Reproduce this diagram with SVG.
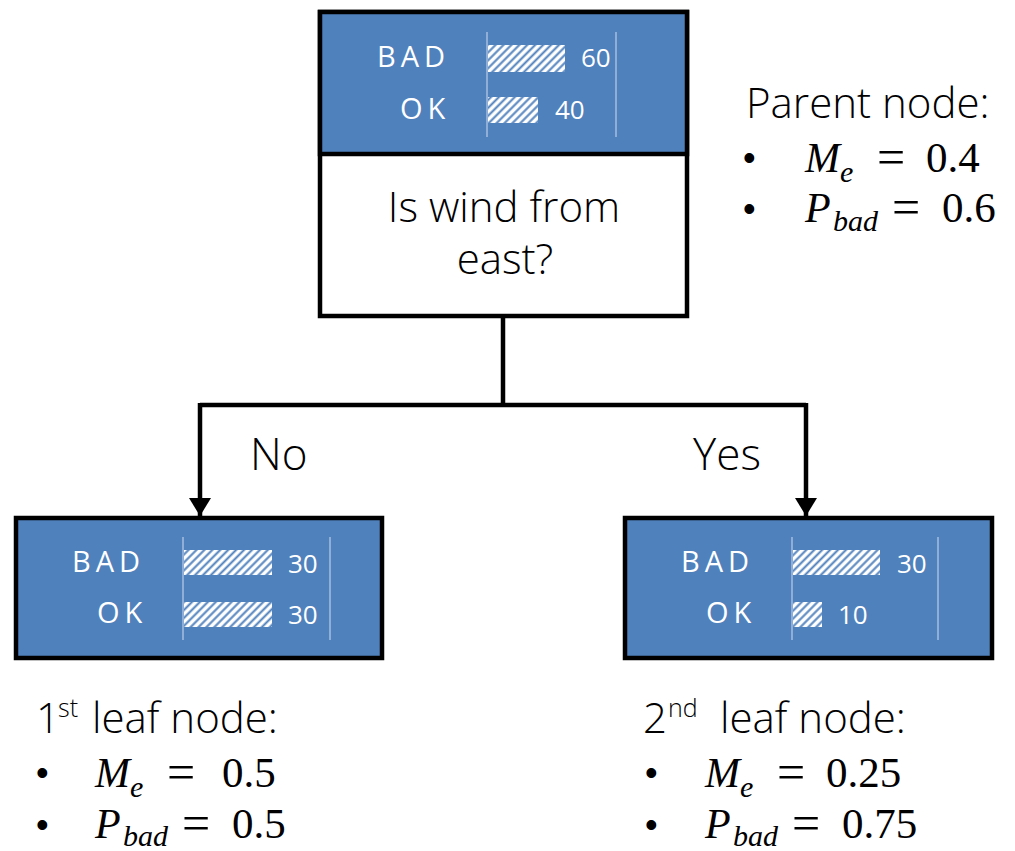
<svg xmlns="http://www.w3.org/2000/svg" width="1015" height="851" viewBox="0 0 1015 851">
<style>
.box{fill:#4F81BD;stroke:#000;stroke-width:4.5}
.wbox{fill:#fff;stroke:#000;stroke-width:4.5}
.lbl{font-family:"Open Sans","Liberation Sans",sans-serif;font-size:29px;fill:#fff;letter-spacing:5px}
.num{font-family:"Open Sans","Liberation Sans",sans-serif;font-size:26px;fill:#fff}
.axis{stroke:#B4C8E4;stroke-width:1.3}
.bar{fill:url(#hatch)}
.txt{font-family:"Open Sans","Liberation Sans",sans-serif;font-weight:300;font-size:42px;fill:#000}
.br{font-family:"Open Sans","Liberation Sans",sans-serif;font-size:44px;font-weight:300;fill:#000}
.sup{font-size:25px}
.mi{font-family:"Liberation Serif",serif;font-style:italic;font-size:42px;fill:#000}
.ms{font-family:"Liberation Serif",serif;font-style:italic;font-size:30px;fill:#000}
.mn{font-family:"Liberation Serif",serif;font-size:43px;fill:#000}
.eq{font-family:"Liberation Serif",serif;font-size:50px;fill:#000}
.bul{font-family:"Liberation Sans",sans-serif;font-size:36px;fill:#000}
.conn{fill:none;stroke:#000;stroke-width:4.5}
</style>
<defs>
<pattern id="hatch" patternUnits="userSpaceOnUse" width="5.6" height="5.6" patternTransform="rotate(45)">
<rect width="5.6" height="5.6" fill="#fff"/>
<line x1="1.4" y1="0" x2="1.4" y2="5.6" stroke="#4F81BD" stroke-width="2"/>
</pattern>
<marker id="arr" markerUnits="userSpaceOnUse" markerWidth="20" markerHeight="24" refX="18" refY="11" orient="auto">
<path d="M0,0 L18,11 L0,22 Z" fill="#000"/>
</marker>
</defs>

<g id="connectors">
<path class="conn" d="M503,317 V405"/>
<path class="conn" d="M200,405 H806"/>
<path class="conn" d="M200,403 V516" marker-end="url(#arr)"/>
<path class="conn" d="M806,403 V516" marker-end="url(#arr)"/>
<text class="br" x="250" y="470">No</text>
<text class="br" x="693" y="470">Yes</text>
</g>

<g id="parent-node">
<rect class="wbox" x="320" y="12" width="367" height="304"/>
<rect class="box" x="320" y="12" width="367" height="142"/>
<line class="axis" x1="487" y1="32" x2="487" y2="137"/>
<line class="axis" x1="616" y1="32" x2="616" y2="137"/>
<rect class="bar" x="488" y="45" width="77" height="27"/>
<rect class="bar" x="488" y="97" width="50" height="26"/>
<text class="lbl" x="377" y="67">BAD</text>
<text class="lbl" x="400" y="119">OK</text>
<text class="num" x="581" y="67">60</text>
<text class="num" x="555" y="119">40</text>
<text class="txt" x="504" y="222" text-anchor="middle" font-size="40">Is wind from</text>
<text class="txt" x="505" y="274" text-anchor="middle" font-size="40">east?</text>
</g>

<g id="parent-info">
<text class="txt" x="746" y="118">Parent node:</text>
<text class="bul" x="743" y="170">•</text>
<text class="mi" x="805" y="172">M</text>
<text class="ms" x="840" y="182">e</text>
<text class="eq" x="877" y="174">=</text>
<text class="mn" x="926" y="172">0.4</text>
<text class="bul" x="743" y="221">•</text>
<text class="mi" x="805" y="222">P</text>
<text class="ms" x="833" y="231">bad</text>
<text class="eq" x="892" y="224">=</text>
<text class="mn" x="942" y="222">0.6</text>
</g>

<g id="leaf-1">
<rect class="box" x="16" y="518" width="366" height="140"/>
<line class="axis" x1="183" y1="537" x2="183" y2="640"/>
<line class="axis" x1="330" y1="537" x2="330" y2="640"/>
<rect class="bar" x="184" y="550" width="88" height="25"/>
<rect class="bar" x="184" y="602" width="88" height="25"/>
<text class="lbl" x="72" y="572">BAD</text>
<text class="lbl" x="97" y="623">OK</text>
<text class="num" x="288" y="573">30</text>
<text class="num" x="288" y="624">30</text>
</g>

<g id="leaf-1-info">
<text class="txt" x="36" y="733">1<tspan class="sup" x="58" y="717">st</tspan><tspan x="92" y="733">leaf node:</tspan></text>
<text class="bul" x="36" y="785">•</text>
<text class="mi" x="95" y="787">M</text>
<text class="ms" x="130" y="797">e</text>
<text class="eq" x="167" y="789">=</text>
<text class="mn" x="222" y="787">0.5</text>
<text class="bul" x="36" y="837">•</text>
<text class="mi" x="95" y="838">P</text>
<text class="ms" x="123" y="846">bad</text>
<text class="eq" x="182" y="840">=</text>
<text class="mn" x="232" y="838">0.5</text>
</g>

<g id="leaf-2">
<rect class="box" x="625" y="518" width="367" height="140"/>
<line class="axis" x1="792" y1="537" x2="792" y2="640"/>
<line class="axis" x1="938" y1="537" x2="938" y2="640"/>
<rect class="bar" x="793" y="550" width="87" height="25"/>
<rect class="bar" x="793" y="602" width="29" height="25"/>
<text class="lbl" x="681" y="572">BAD</text>
<text class="lbl" x="706" y="623">OK</text>
<text class="num" x="897" y="573">30</text>
<text class="num" x="838" y="624">10</text>
</g>

<g id="leaf-2-info">
<text class="txt" x="643" y="733">2<tspan class="sup" x="668" y="717">nd</tspan><tspan x="720" y="733">leaf node:</tspan></text>
<text class="bul" x="645" y="785">•</text>
<text class="mi" x="705" y="787">M</text>
<text class="ms" x="740" y="797">e</text>
<text class="eq" x="777" y="789">=</text>
<text class="mn" x="826" y="787">0.25</text>
<text class="bul" x="645" y="837">•</text>
<text class="mi" x="705" y="838">P</text>
<text class="ms" x="733" y="846">bad</text>
<text class="eq" x="792" y="840">=</text>
<text class="mn" x="842" y="838">0.75</text>
</g>
</svg>
